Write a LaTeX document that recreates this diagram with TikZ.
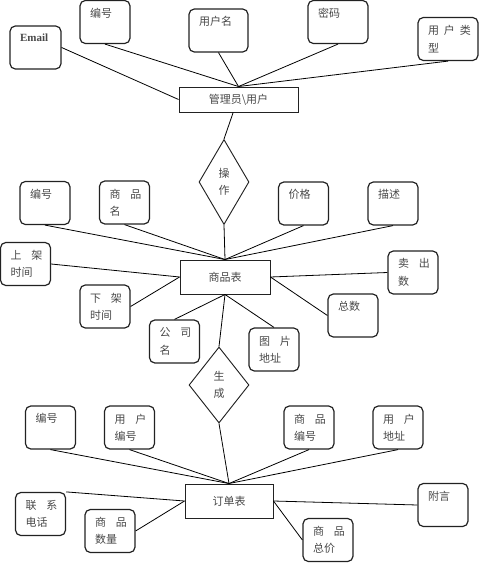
\documentclass[tikz,border=0pt]{standalone}
\usepackage{fontspec}
\setmainfont{Noto Sans CJK SC}
\newfontfamily\enfont{Liberation Serif}
\usepackage{tikz}
\usetikzlibrary{shapes.geometric}
\definecolor{erink}{HTML}{222222}
\definecolor{ertext}{HTML}{484848}
% wide gap between the characters of a two-line label
\newcommand{\wgap}{\kern0.9em}

\begin{document}
\begin{tikzpicture}[
    x=0.75pt, y=-0.75pt,
    font=\fontsize{8.25}{13}\selectfont,
    attr/.style={draw=erink, rounded corners=4pt, line width=0.9pt, text=ertext,
                 align=left, text width=22.5pt, inner xsep=7.5pt, minimum height=32.25pt},
    oneline/.style={text depth=14pt},
    ent/.style={draw=erink, line width=0.7pt, text=ertext},
    rel/.style={draw=erink, diamond, line width=0.7pt, inner sep=0pt, align=center,
                text=ertext},
    link/.style={line width=0.6pt, black},
]
\useasboundingbox (0,0) rectangle (479,563);

% manager / user
\node[ent, minimum width=89.25pt, minimum height=18.75pt] (mgr) at (238.5,99.5) {管理员\textbackslash 用户};
\node[attr, oneline, text width=23.25pt] (memail) at (35.5,47.5) {\enfont\bfseries Email};
\node[attr, oneline] (mno)   at (105,22)   {编号};
\node[attr, oneline, text width=29.25pt] (mname) at (218.5,30.5) {用户名};
\node[attr, oneline, text width=30pt]    (mpwd)  at (338,22)   {密码};
\node[attr, text width=30pt] (mtype) at (448,39) {用\kern.45em 户\kern.45em 类\\型};

\draw[link] (memail.east) -- (mgr.west);
\draw[link] (mno.south)   -- (mgr.north);
\draw[link] (mname.south) -- (mgr.north);
\draw[link] (mpwd.south)  -- (mgr.north);
\draw[link] (mtype.south) -- (mgr.north);

\node[rel, minimum width=37.5pt, minimum height=63.75pt] (op) at (224,182) {操\\作};
\draw[link] ([xshift=-4pt]mgr.south) -- (op.north);

% goods table
\node[ent, minimum width=67.5pt, minimum height=25.5pt] (goods) at (225,277) {商品表};
\node[attr, oneline] (gno)      at (45,203)    {编号};
\node[attr]          (gname)    at (124.5,202.5) {商\wgap 品\\名};
\node[attr, oneline] (gprice)   at (303.5,203.5) {价格};
\node[attr, oneline] (gdesc)    at (393,203.5) {描述};
\node[attr]          (gon)      at (25.5,264)  {上\wgap 架\\时间};
\node[attr]          (gsold)    at (413,272.5) {卖\wgap 出\\数};
\node[attr]          (goff)     at (105,306.5) {下\wgap 架\\时间};
\node[attr, oneline] (gtotal)   at (353,315.5) {总数};
\node[attr]          (gcompany) at (174.5,341.5) {公\wgap 司\\名};
\node[attr]          (gpic)     at (274,349.5) {图\wgap 片\\地址};

\draw[link] (op.south)       -- (goods.north);
\draw[link] (gno.south)      -- (goods.north);
\draw[link] (gname.south)    -- (goods.north);
\draw[link] (gprice.south)   -- (goods.north);
\draw[link] (gdesc.south)    -- (goods.north);
\draw[link] (gon.east)       -- (goods.west);
\draw[link] (goff.east)      -- (goods.west);
\draw[link] (gsold.west)     -- (goods.east);
\draw[link] (gtotal.west)    -- (goods.east);
\draw[link] (gcompany.north) -- (goods.south);
\draw[link] (gpic.north)     -- (goods.south);

\node[rel, minimum width=45pt, minimum height=57pt] (gen) at (219,385) {生\\成};
\draw[link] (goods.south) -- (gen.north);

% order table
\node[ent, minimum width=66pt, minimum height=25.5pt] (order) at (229,501) {订单表};
\node[attr, oneline] (ono)    at (50.5,427.5)  {编号};
\node[attr]          (ouser)  at (129.5,427.5) {用\wgap 户\\编号};
\node[attr]          (ogoods) at (309,427.5)   {商\wgap 品\\编号};
\node[attr]          (oaddr)  at (398,427.5)   {用\wgap 户\\地址};
\node[attr]          (otel)   at (40.5,514)    {联\wgap 系\\电话};
\node[attr]          (oqty)   at (110,531)     {商\wgap 品\\数量};
\node[attr, oneline] (onote)  at (443,505)     {附言};
\node[attr]          (osum)   at (328,540)     {商\wgap 品\\总价};

\draw[link] (gen.south)       -- (order.north);
\draw[link] (ono.south)       -- (order.north);
\draw[link] (ouser.south)     -- (order.north);
\draw[link] (ogoods.south)    -- (order.north);
\draw[link] (oaddr.south)     -- (order.north);
\draw[link] (otel.north east) -- (order.west);
\draw[link] (oqty.east)       -- (order.west);
\draw[link] (onote.west)      -- (order.east);
\draw[link] (osum.west)       -- (order.east);

\end{tikzpicture}
\end{document}
